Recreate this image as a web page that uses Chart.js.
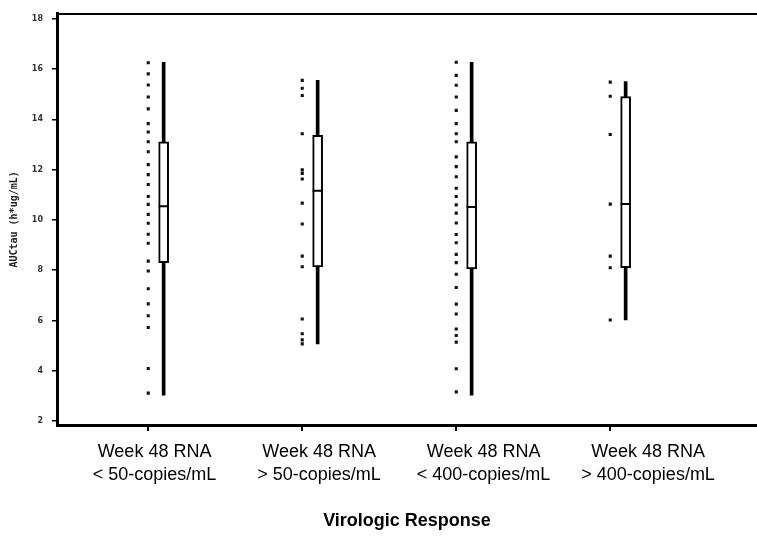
<!DOCTYPE html>
<html>
<head>
<meta charset="utf-8">
<script src="https://cdn.jsdelivr.net/npm/chart.js@4/dist/chart.umd.min.js"></script>
<style>
    html, body { margin: 0; padding: 0; background: #fff; overflow: hidden; }
    canvas { display: block; }
</style>
</head>
<body>
<canvas id="myChart" width="757" height="536" style="width:757px;height:536px"></canvas>
<script>
const categories = [
    ['Week 48 RNA', '< 50-copies/mL'],
    ['Week 48 RNA', '> 50-copies/mL'],
    ['Week 48 RNA', '< 400-copies/mL'],
    ['Week 48 RNA', '> 400-copies/mL']
]
const whiskerLow = [3.03, 5.07, 3.03, 6.02]
const q1 = [8.3, 8.13, 8.05, 8.1]
const median = [10.54, 11.16, 10.51, 10.63]
const q3 = [13.11, 13.37, 13.11, 14.91]
const whiskerHigh = [16.27, 15.55, 16.27, 15.5]
const points = [
    [16.25, 15.81, 15.37, 14.89, 14.42, 13.83, 13.5, 13.11, 12.71, 12.2, 11.8, 11.41, 10.93,
     10.62, 10.22, 9.87, 9.43, 9.07, 8.36, 7.97, 7.26, 6.66, 6.19, 5.72, 4.09, 3.11],
    [15.55, 15.24, 14.95, 13.43, 11.99, 11.85, 11.63, 10.67, 9.84, 8.56, 8.14, 6.06, 5.47, 5.23, 5.07],
    [16.27, 15.75, 15.36, 14.89, 14.36, 13.83, 13.43, 13.11, 12.51, 12.12, 11.72, 11.26, 10.93,
     10.6, 10.27, 9.88, 9.42, 9.09, 8.63, 8.3, 7.84, 7.31, 6.65, 6.26, 5.66, 5.4, 5.14, 4.08, 3.16],
    [15.48, 14.92, 13.4, 10.63, 8.56, 8.1, 6.02]
]
const yTicks = [2, 4, 6, 8, 10, 12, 14, 16, 18]

// boxes sit just right of their column of dots
const boxShift = 0.1

const dots = []
points.forEach((list, i) => list.forEach(v => dots.push({ x: i + 1, y: v })))

const whiskers = whiskerLow.map((lo, i) => ({ x: i + 1 + boxShift, y: [lo, whiskerHigh[i]] }))
const boxes = q1.map((lo, i) => ({ x: i + 1 + boxShift, y: [lo, q3[i]] }))
const medians = median.map((m, i) => ({ x: i + 1 + boxShift, y: m }))

const fixTicks = list => scale => { scale.ticks = list.map(v => ({ value: v })) }

const ctx = document.getElementById('myChart').getContext('2d')
new Chart(ctx, {
    type: 'scatter',
    data: {
        datasets: [
            {
                type: 'scatter',
                data: medians,
                pointStyle: 'line',
                radius: 5,
                borderWidth: 2,
                borderColor: '#000',
                order: 0
            },
            {
                type: 'scatter',
                data: dots,
                pointStyle: 'rect',
                radius: 2.2,
                borderWidth: 0,
                backgroundColor: '#111',
                order: 0
            },
            {
                type: 'bar',
                data: boxes,
                grouped: false,
                barThickness: 10,
                backgroundColor: '#fff',
                borderColor: '#000',
                borderWidth: 2,
                borderSkipped: false,
                order: 1
            },
            {
                type: 'bar',
                data: whiskers,
                grouped: false,
                barThickness: 3,
                backgroundColor: '#000',
                borderWidth: 0,
                order: 2
            }
        ]
    },
    options: {
        responsive: false,
        animation: false,
        devicePixelRatio: 1,
        layout: { autoPadding: false, padding: { top: 11, left: 0, right: 0, bottom: 0 } },
        plugins: { legend: { display: false }, tooltip: { enabled: false } },
        scales: {
            x: {
                type: 'linear',
                position: 'bottom',
                weight: 0,
                min: 0.4075,
                max: 4.953,
                offset: false,
                afterBuildTicks: fixTicks([1, 2, 3, 4]),
                afterFit: s => { s.height = 6 },
                ticks: { display: false },
                grid: { drawOnChartArea: false, tickLength: 6, color: '#000', lineWidth: 2, offset: false },
                border: { color: '#000', width: 3 }
            },
            xLab: {
                type: 'linear',
                axis: 'x',
                position: 'bottom',
                weight: 1,
                min: 0.407,
                max: 4.662,
                afterBuildTicks: fixTicks([1, 2, 3, 4]),
                afterFit: s => { s.height = 105 },
                ticks: {
                    padding: 10,
                    maxRotation: 0,
                    autoSkip: false,
                    color: '#000',
                    font: { family: 'Liberation Sans', size: 18, lineHeight: 1.278 },
                    callback: v => categories[v - 1] || ''
                },
                grid: { display: false, drawTicks: false },
                border: { display: false },
                title: {
                    display: true,
                    text: 'Virologic Response',
                    color: '#000',
                    font: { family: 'Liberation Sans', size: 18, weight: 'bold' },
                    padding: { top: 0, bottom: 4 }
                }
            },
            xTop: {
                type: 'linear',
                axis: 'x',
                position: 'top',
                min: 0,
                max: 1,
                afterFit: s => { s.height = 0 },
                ticks: { display: false },
                grid: { display: false, drawTicks: false },
                border: { color: '#000', width: 2 }
            },
            y: {
                type: 'linear',
                min: 1.842,
                max: 18.2,
                afterBuildTicks: fixTicks(yTicks),
                afterFit: s => { s.width = 57 },
                ticks: {
                    padding: 9,
                    color: '#333',
                    font: { family: 'DejaVu Sans', size: 8, weight: 'bold' }
                },
                grid: { drawOnChartArea: false, tickLength: 5, color: '#000', lineWidth: 1.5 },
                border: { color: '#000', width: 3 },
                title: {
                    display: true,
                    text: 'AUCtau (h*ug/mL)',
                    color: '#222',
                    font: { family: 'DejaVu Sans Mono', size: 10, weight: 'bold' },
                    padding: { top: 8, bottom: 0 }
                }
            }
        }
    }
})
</script>
</body>
</html>
